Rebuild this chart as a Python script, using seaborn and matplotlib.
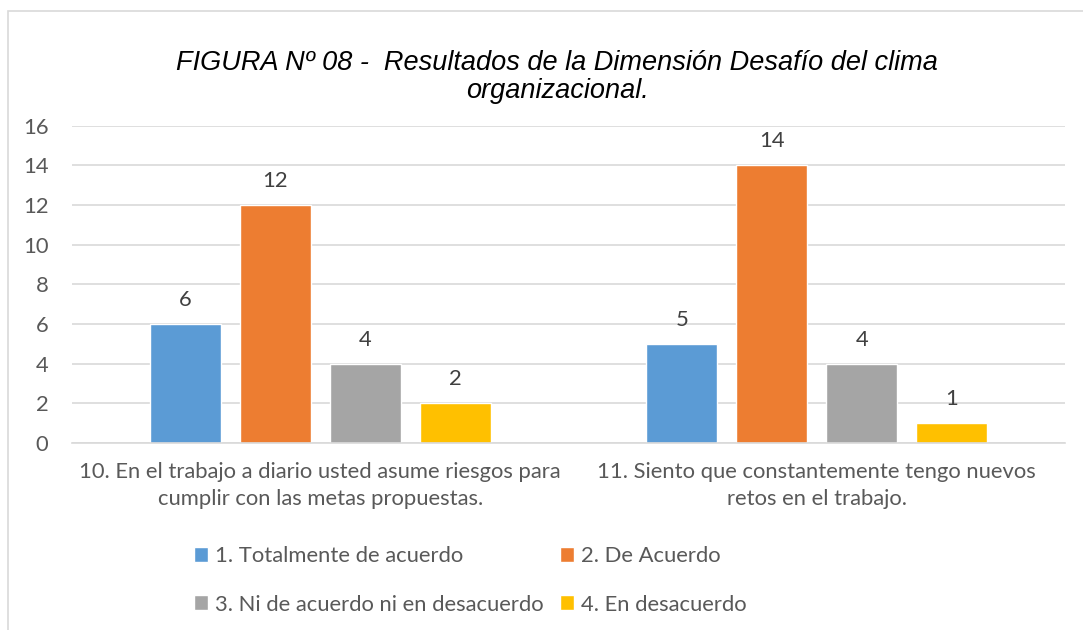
import matplotlib
matplotlib.use("Agg")
import matplotlib.pyplot as plt
import matplotlib.patches as mpatches
import seaborn as sns
import pandas as pd

categories = [
    "10. En el trabajo a diario usted asume riesgos para\ncumplir con las metas propuestas.",
    "11. Siento que constantemente tengo nuevos\nretos en el trabajo.",
]
series_names = [
    "1. Totalmente de acuerdo",
    "2. De Acuerdo",
    "3. Ni de acuerdo ni en desacuerdo",
    "4. En desacuerdo",
]
values_totalmente = [6, 5]
values_acuerdo = [12, 14]
values_ni = [4, 4]
values_desacuerdo = [2, 1]
colors = ["#5B9BD5", "#ED7D31", "#A5A5A5", "#FFC000"]
yticks = [0, 2, 4, 6, 8, 10, 12, 14, 16]
title = "FIGURA Nº 08 -  Resultados de la Dimensión Desafío del clima\norganizacional."

rows = []
for s, vals in zip(series_names, [values_totalmente, values_acuerdo, values_ni, values_desacuerdo]):
    for c, v in zip(categories, vals):
        rows.append({"cat": c, "serie": s, "valor": v})
df = pd.DataFrame(rows)

sns.set_theme(style="white")
plt.rcParams["font.family"] = ["Lato", "DejaVu Sans"]

W, H = 1083, 630
FS = 15.8
fig = plt.figure(figsize=(W / 100, H / 100), dpi=100)
fig.patch.set_facecolor("white")

# outer chart frame (light gray, left and top visible)
frame = mpatches.Rectangle((8 / W, -0.1), 1.2, (1 - 11 / H) + 0.1, transform=fig.transFigure,
                           fill=False, edgecolor="#D9D9D9", linewidth=1.2, clip_on=False)
fig.add_artist(frame)

ax = fig.add_axes([72 / W, 1 - 443 / H, (1065 - 72) / W, (443 - 125.5) / H])
sns.barplot(data=df, x="cat", y="valor", hue="serie", hue_order=series_names,
            order=categories, palette=colors, width=0.724, gap=0.21,
            saturation=1, ax=ax, legend=True)

ax.set_ylim(0, 16)
ax.set_xlim(-0.5, 1.5)
ax.set_yticks(yticks)
ax.yaxis.grid(True, color="#D9D9D9", linewidth=1.2)
ax.set_axisbelow(True)
for sp in ["left", "right", "top"]:
    ax.spines[sp].set_visible(False)
ax.spines["bottom"].set_color("#D9D9D9")
ax.spines["bottom"].set_linewidth(1.2)
ax.set_xlabel("")
ax.set_ylabel("")
ax.tick_params(axis="y", length=0, pad=17, labelsize=FS, labelcolor="#595959")
ax.tick_params(axis="x", length=0, pad=14, labelsize=FS, labelcolor="#595959")
for lbl in ax.get_xticklabels():
    lbl.set_linespacing(1.42)

for cont in ax.containers:
    ax.bar_label(cont, padding=10, fontsize=FS, color="#404040")

handles, labels = ax.get_legend_handles_labels()
ax.get_legend().remove()
order = [0, 2, 1, 3]
fig.legend([handles[i] for i in order], [labels[i] for i in order], ncol=2, loc="upper left",
           bbox_to_anchor=(194 / W, 1 - 546 / H),
           frameon=False, fontsize=FS, labelcolor="#595959", handlelength=0.65,
           handleheight=0.65, handletextpad=0.3, columnspacing=0.75, labelspacing=1.3,
           borderaxespad=0, borderpad=0)

fig.text(557 / W, 1 - 77 / H, title, ha="center", va="center", fontsize=19.5,
         style="italic", family=["Liberation Sans", "DejaVu Sans"], color="#000000",
         linespacing=1.15)

fig.savefig("out.png", dpi=100, facecolor="white")
